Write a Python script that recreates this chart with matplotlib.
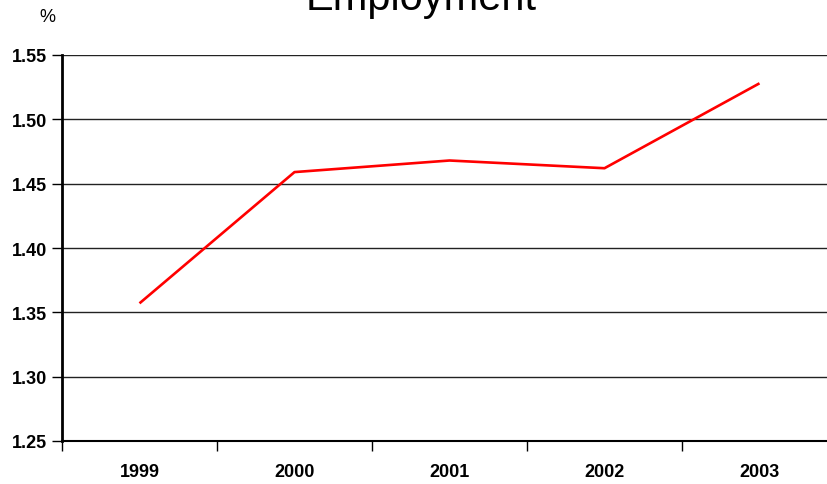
import matplotlib
matplotlib.use("Agg")
import matplotlib.pyplot as plt
import numpy as np

plt.rcParams['font.family'] = ['Liberation Sans', 'DejaVu Sans']

# Employment growth by year (%)
years = ['1999', '2000', '2001', '2002', '2003']
employment = [1.357, 1.459, 1.468, 1.462, 1.528]
yticks = [1.25, 1.30, 1.35, 1.40, 1.45, 1.50, 1.55]

fig = plt.figure(figsize=(8.28, 4.85), dpi=100)
ax = fig.add_axes([62/828, 43/485, 775/828, 386/485])

x = np.arange(len(years))
ax.plot(x, employment, color='#ff0000', linewidth=1.9, solid_capstyle='butt', zorder=3)

ax.set_xlim(-0.5, len(years) - 0.5)
ax.set_ylim(yticks[0], yticks[-1])

# horizontal gridlines at every y tick
for yv in yticks[1:]:
    ax.axhline(yv, color='#222222', linewidth=1.0, zorder=1)

ax.set_yticks(yticks)
ax.set_yticklabels(['%.2f' % v for v in yticks], fontsize=13, fontweight='bold')
ax.tick_params(axis='y', direction='out', length=7, width=1, pad=4)

# category boundaries get tick marks, labels sit in the middle
ax.set_xticks(np.arange(len(years) + 1) - 0.5)
ax.set_xticklabels([])
ax.set_xticks(x, minor=True)
ax.set_xticklabels(years, minor=True, fontsize=13, fontweight='bold')
ax.tick_params(axis='x', which='major', direction='out', length=7, width=1)
ax.tick_params(axis='x', which='minor', length=0, pad=16)

for side in ['top', 'right']:
    ax.spines[side].set_visible(False)
ax.spines['left'].set_linewidth(2)
ax.spines['bottom'].set_linewidth(1.5)

fig.text(421/828, 1 - 10/485, 'Employment', fontsize=30, ha='center', va='baseline')
fig.text(47/828, 1 - 17/485, '%', fontsize=13, ha='center', va='center')

fig.savefig('out.png', dpi=100)
